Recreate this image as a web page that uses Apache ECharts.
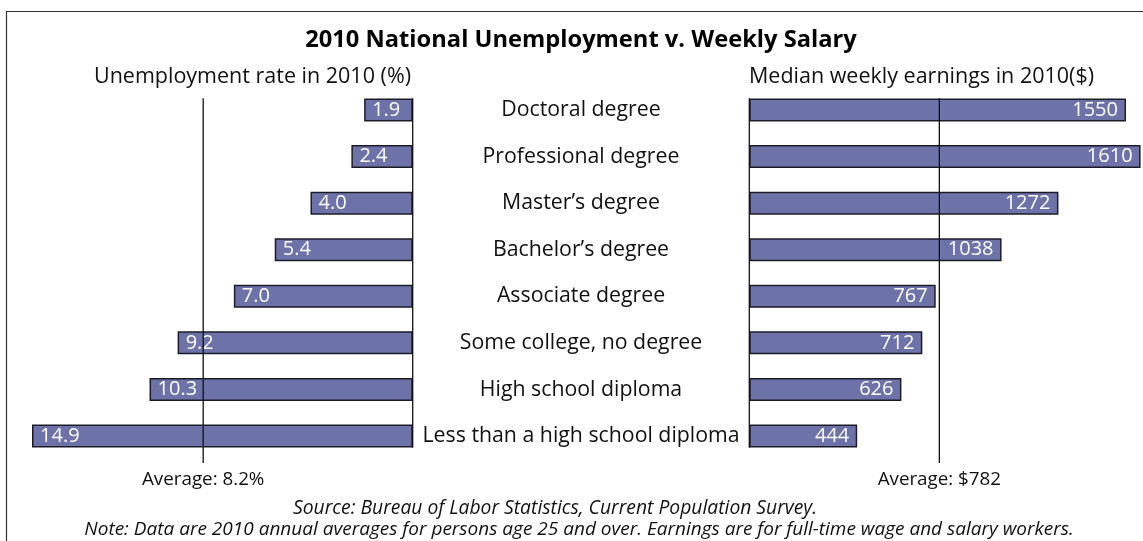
<!DOCTYPE html>
<html>
<head>
<meta charset="utf-8">
<script src="https://cdn.jsdelivr.net/npm/echarts@6/dist/echarts.min.js"></script>
<style>
  html, body { margin: 0; padding: 0; background: #fff; }
  #chart { width: 1143px; height: 541px; }
</style>
</head>
<body>
<div id="chart"></div>
<script>
// 2010 unemployment vs weekly salary
var categories = ['Doctoral degree', 'Professional degree', 'Master\u2019s degree', 'Bachelor\u2019s degree',
    'Associate degree', 'Some college, no degree', 'High school diploma', 'Less than a high school diploma'];
var unemployment = [1.9, 2.4, 4.0, 5.4, 7.0, 9.2, 10.3, 14.9];
var earnings = [1550, 1610, 1272, 1038, 767, 712, 626, 444];
var avgUnemployment = 8.2;
var avgEarnings = 782;

(function () {
    var myChart = echarts.init(document.getElementById('chart'));
    var font = '"Open Sans", "Noto Sans", sans-serif';
    var barColor = '#6d73a9';
    var barBorder = '#1c1c28';
    var barWidth = 23;
    // positions on the hidden 0..8 band axis
    var lineTop = 0.25, axisBottom = 7.75, avgBottom = 8.08;

    function bars(gridIdx, data, pos, fmt) {
        return {
            type: 'bar',
            xAxisIndex: gridIdx,
            yAxisIndex: gridIdx * 2,
            data: data,
            barWidth: barWidth,
            itemStyle: { color: barColor, borderColor: barBorder, borderWidth: 1.5 },
            label: {
                show: true,
                position: pos,
                distance: 8,
                color: '#fff',
                fontFamily: font,
                fontSize: 20,
                formatter: fmt
            }
        };
    }

    function vline(gridIdx, x, bottom) {
        return {
            type: 'line',
            xAxisIndex: gridIdx,
            yAxisIndex: gridIdx * 2 + 1,
            data: [[x, lineTop], [x, bottom]],
            symbol: 'none',
            clip: false,
            silent: true,
            z: 5,
            lineStyle: { color: '#111', width: 1.3 }
        };
    }

    function avgAxis(idx, max, inverse, avg, fmt) {
        return {
            gridIndex: idx,
            type: 'value',
            inverse: inverse,
            min: 0,
            max: max,
            splitLine: { show: false },
            axisLine: { show: false },
            axisTick: { show: false },
            axisLabel: {
                customValues: [avg],
                margin: 11,
                fontFamily: font,
                fontSize: 18.8,
                color: '#111',
                formatter: fmt
            }
        };
    }

    option = {
        backgroundColor: '#fff',
        animation: false,
        grid: [
            { left: 29.45, right: 730.3, top: 86.7, bottom: 81.7 },
            { left: 749.3, right: -7.3, top: 86.7, bottom: 81.7 }
        ],
        xAxis: [
            avgAxis(0, 15, true, avgUnemployment, function (v) { return 'Average: ' + v + '%'; }),
            avgAxis(1, 1620, false, avgEarnings, function (v) { return 'Average: $' + v; })
        ],
        yAxis: [{
            gridIndex: 0,
            type: 'category',
            inverse: true,
            data: categories,
            axisLine: { show: false },
            axisTick: { show: false },
            axisLabel: { show: false }
        }, {
            gridIndex: 0,
            type: 'value',
            inverse: true,
            min: 0,
            max: 8,
            show: false
        }, {
            gridIndex: 1,
            type: 'category',
            inverse: true,
            data: categories,
            axisLine: { show: false },
            axisTick: { show: false },
            axisLabel: {
                margin: 168.3,
                align: 'center',
                padding: [4, 0, 0, 0],
                fontFamily: font,
                fontSize: 21.3,
                color: '#111'
            }
        }, {
            gridIndex: 1,
            type: 'value',
            inverse: true,
            min: 0,
            max: 8,
            show: false
        }],
        series: [
            bars(0, unemployment, 'insideLeft', function (p) { return p.value.toFixed(1); }),
            bars(1, earnings, 'insideRight', function (p) { return String(p.value); }),
            vline(0, 0, axisBottom),
            vline(0, avgUnemployment, avgBottom),
            vline(1, 0, axisBottom),
            vline(1, avgEarnings, avgBottom)
        ],
        graphic: [{
            type: 'rect',
            shape: { x: 6.5, y: 11.5, width: 1300, height: 700 },
            style: { fill: 'none', stroke: '#333', lineWidth: 1.2 },
            silent: true
        }, {
            type: 'text', x: 581, y: 40,
            style: { text: '2010 National Unemployment v. Weekly Salary', font: 'bold 23.7px ' + font, fill: '#000', align: 'center', verticalAlign: 'middle' }
        }, {
            type: 'text', x: 252.5, y: 77,
            style: { text: 'Unemployment rate in 2010 (%)', font: '21.5px ' + font, fill: '#111', align: 'center', verticalAlign: 'middle' }
        }, {
            type: 'text', x: 921.5, y: 77,
            style: { text: 'Median weekly earnings in 2010($)', font: '21.5px ' + font, fill: '#111', align: 'center', verticalAlign: 'middle' }
        }, {
            type: 'text', x: 555, y: 508.5,
            style: { text: 'Source: Bureau of Labor Statistics, Current Population Survey.', font: 'italic 19.3px ' + font, fill: '#111', align: 'center', verticalAlign: 'middle' }
        }, {
            type: 'text', x: 579, y: 530,
            style: { text: 'Note: Data are 2010 annual averages for persons age 25 and over. Earnings are for full-time wage and salary workers.', font: 'italic 19px ' + font, fill: '#111', align: 'center', verticalAlign: 'middle' }
        }]
    };
    myChart.setOption(option);
    window.addEventListener('resize', function () {
        myChart.resize();
    });
})();
</script>
</body>
</html>
